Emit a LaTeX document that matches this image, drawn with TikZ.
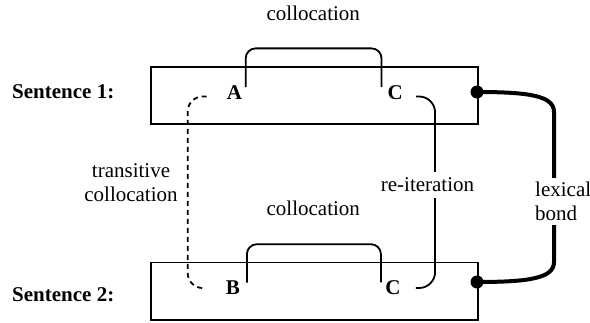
\documentclass[tikz,border=0pt]{standalone}
\usepackage{fontspec}
\setmainfont{Liberation Serif}
\begin{document}
\begin{tikzpicture}[x=1pt,y=-1pt,
  every node/.style={font=\fontsize{21}{24.5}\selectfont},
  lbl/.style={inner sep=0pt},
  letter/.style={inner sep=0pt,font=\fontsize{21}{24.5}\selectfont\bfseries},
  sbox/.style={draw,line width=1.8pt,minimum width=327pt,minimum height=57.6pt,inner sep=0pt},
  link/.style={line width=1.8pt},
  translink/.style={line width=1.8pt,dash pattern=on 5pt off 4pt},
  bondline/.style={line width=4pt},
  dotnode/.style={circle,fill=black,minimum size=13pt,inner sep=0pt},
  gaplabel/.style={fill=white}]
\useasboundingbox (0,0) rectangle (590,322);

% boxes
\node[sbox] (S1) at (314.2,95.5) {};
\node[sbox] (S2) at (314.2,291.35) {};

% sentence labels
\node[lbl,anchor=base west,font=\fontsize{21}{24.5}\selectfont\bfseries] (L1) at (12,98.3) {Sentence 1:};
\node[lbl,anchor=base west,font=\fontsize{21}{24.5}\selectfont\bfseries] (L2) at (12,301.7) {Sentence 2:};

% letters
\node[letter] (A) at (234.5,92.5) {A};
\node[letter] (C1) at (395.3,92.5) {C};
\node[letter] (B) at (233,288) {B};
\node[letter] (C2) at (393,288) {C};

% collocation brackets
\draw[link,rounded corners=10pt] ([xshift=3.4pt,yshift=-1.7pt]A.north east) -- ++(0,-38.7) -| ([xshift=-6pt,yshift=-1.7pt]C1.north west);
\node[lbl,anchor=base] (T1) at (313.3,20.5) {collocation};

\draw[link,rounded corners=10pt] ([xshift=6.7pt,yshift=-1.7pt]B.north east) -- ++(0,-38.4) -| ([xshift=-4.3pt,yshift=-1.7pt]C2.north west);
\node[lbl,anchor=base] (T2) at (313.3,215.7) {collocation};

% transitive collocation (dashed)
\draw[translink,rounded corners=15pt] ([xshift=-20pt,yshift=-4pt]A.west) -- ++(-19,0) |- ([xshift=-20pt]B.west);
\node[lbl,align=center] (TC) at (131,182.5) {transitive\\collocation};

% re-iteration
\draw[link,rounded corners=16pt] ([xshift=13pt,yshift=-4pt]C1.east) -- ++(19,0) |- ([xshift=15pt]C2.east);
\node[gaplabel,inner xsep=1pt,inner ysep=6pt,anchor=base] (RI) at (427.5,191.7) {re-iteration};

% lexical bond
\node[dotnode] (D1) at (477,92) {};
\node[dotnode] (D2) at (477,282) {};
\draw[bondline] (D1.center) .. controls +(53,0) and +(0,-16) .. ++(77,20) -- ++(0,150) .. controls +(0,16) and +(53,0) .. (D2.center);
\node[gaplabel,inner xsep=0pt,inner ysep=4pt,align=left,anchor=west] (LB) at (535,201.5) {lexical\\bond};
\end{tikzpicture}
\end{document}
